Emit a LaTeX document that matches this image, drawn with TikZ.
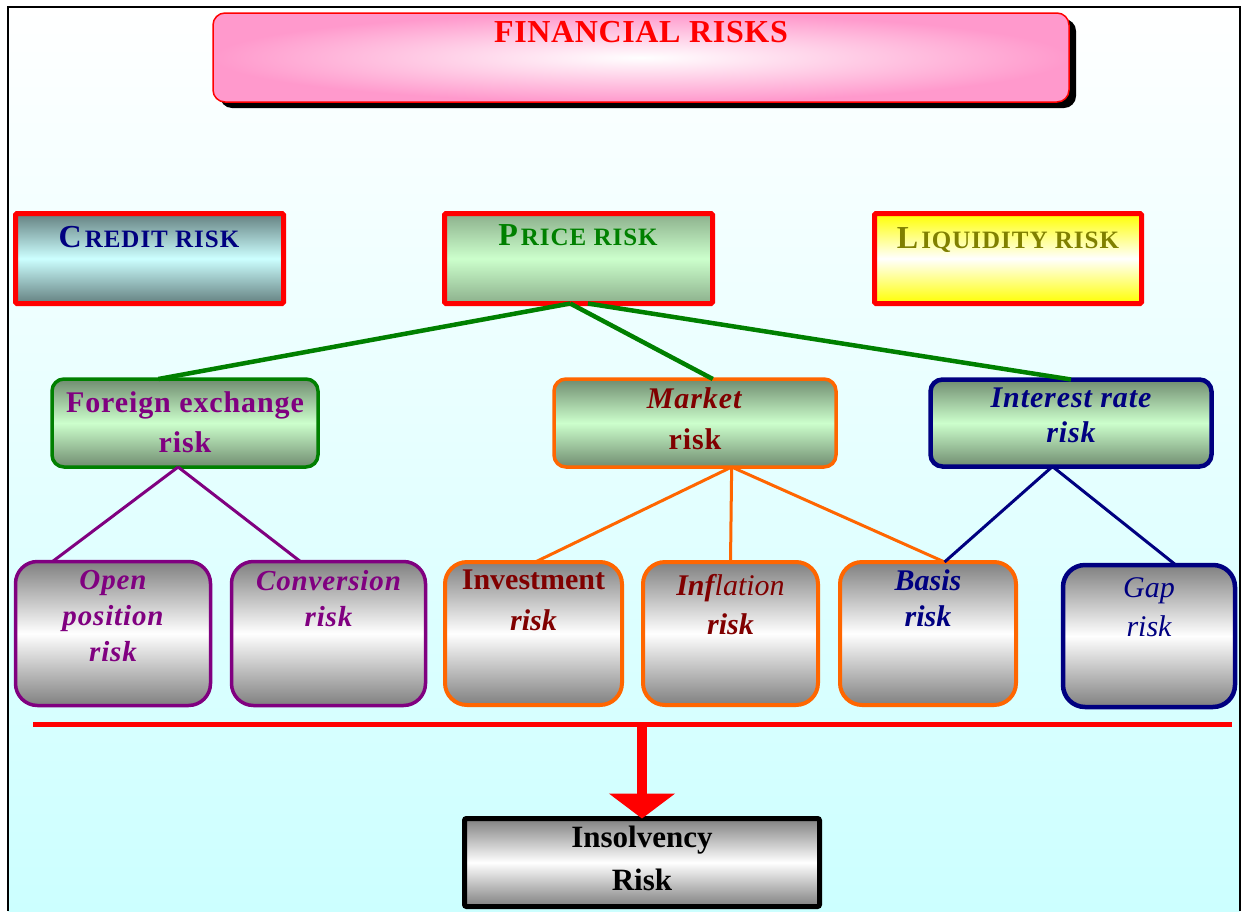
\documentclass[tikz,border=0pt]{standalone}
\usepackage{fontspec}
\setmainfont{Liberation Serif}
\usetikzlibrary{calc,shadows,arrows.meta}

\definecolor{navyc}{RGB}{0,0,128}
\definecolor{greenc}{RGB}{0,128,0}
\definecolor{olivec}{RGB}{128,128,0}
\definecolor{purplec}{RGB}{128,0,128}
\definecolor{maroonc}{RGB}{128,0,0}
\definecolor{orangec}{RGB}{255,102,0}
\definecolor{redc}{RGB}{255,0,0}
\definecolor{pinkc}{RGB}{255,153,204}
\definecolor{bgcyan}{RGB}{204,255,255}
\definecolor{slatec}{RGB}{100,128,128}
\definecolor{paleblue}{RGB}{204,255,255}
\definecolor{sagec}{RGB}{140,176,140}
\definecolor{sagedark}{RGB}{112,140,112}
\definecolor{palegreen}{RGB}{204,255,204}
\definecolor{yellowc}{RGB}{255,255,0}
\definecolor{grayc}{RGB}{128,128,128}

% small capitals made from two sizes of capitals
\newcommand\twocaps[2]{{\fontsize{32}{32}\selectfont #1}\hspace{3pt}{\fontsize{25}{25}\selectfont #2}}

\begin{document}
\begin{tikzpicture}[x=1pt,y=-1pt,
  box/.style={draw, inner sep=0pt, outer sep=0pt},
  titlebox/.style={box, draw=redc, line width=1.5pt, rounded corners=12pt,
    inner color=white, outer color=pinkc,
    drop shadow={shadow xshift=7pt, shadow yshift=-6pt, fill=black, opacity=1}},
  headbox/.style={box, draw=redc, line width=5pt, rounded corners=1.5pt},
  creditfill/.style={top color=slatec, bottom color=slatec, middle color=paleblue},
  pricefill/.style={top color=sagec, bottom color=sagec, middle color=palegreen},
  liqfill/.style={top color=yellowc, bottom color=yellowc, middle color=white},
  midbox/.style={box, line width=3.5pt, rounded corners=12pt,
    top color=sagedark, bottom color=sagedark, middle color=palegreen},
  lowbox/.style={box, line width=3.5pt, rounded corners=22pt,
    top color=grayc, bottom color=grayc, middle color=white},
  endbox/.style={box, draw=black, line width=5pt, rounded corners=2pt,
    top color=grayc, bottom color=grayc, middle color=white},
  label/.style={inner sep=0pt, outer sep=0pt, align=center},
  greenlink/.style={draw=greenc, line width=4.5pt},
  sublink/.style={line width=3pt},
  redbus/.style={draw=redc, line width=5pt},
  bigarrow/.style={draw=redc, line width=10pt, -{Triangle[width=65pt,length=25pt]}}
]
\useasboundingbox (0,0) rectangle (1243,911);
\fill[white] (0,0) rectangle (1243,911);
\shade[top color=white, bottom color=bgcyan] (8,7) rectangle (1240,911);
\draw[line width=1.5pt] (8,911) -- (8,7) -- (1240,7) -- (1240,911);

% title
\node[titlebox, minimum width=856pt, minimum height=89pt] (title) at (641,57.5) {};
\node[label, text=redc, font=\fontsize{32}{32}\selectfont\bfseries\addfontfeature{LetterSpace=2}, anchor=base] (titletext) at (641,42) {FINANCIAL RISKS};

% three main risk classes
\node[headbox, creditfill, minimum width=268pt, minimum height=90pt] (credit) at (149.5,258.5) {};
\node[headbox, pricefill, minimum width=268pt, minimum height=90pt] (price) at (578.5,258.5) {};
\node[headbox, liqfill, minimum width=267pt, minimum height=90pt] (liquidity) at (1008,258.5) {};
\node[label, text=navyc, font=\bfseries\addfontfeature{LetterSpace=4}, anchor=base] (credittext) at (149,247) {\twocaps{C}{REDIT RISK}};
\node[label, text=greenc, font=\bfseries\addfontfeature{LetterSpace=4}, anchor=base] (pricetext) at (578,245) {\twocaps{P}{RICE RISK}};
\node[label, text=olivec, font=\bfseries\addfontfeature{LetterSpace=4}, anchor=base] (liqtext) at (1008,248) {\twocaps{L}{IQUIDITY RISK}};

% components of price risk
\node[midbox, draw=greenc, minimum width=266pt, minimum height=88pt] (fx) at (185,423) {};
\node[midbox, draw=orangec, minimum width=282pt, minimum height=88pt] (market) at (695,423) {};
\node[midbox, draw=navyc, line width=4.5pt, minimum width=281pt, minimum height=87pt] (interest) at (1071,423) {};
\node[label, text=purplec, font=\fontsize{30}{40}\selectfont\bfseries\addfontfeature{LetterSpace=3}, anchor=north] (fxtext) at (185,392) {Foreign exchange\\risk};
\node[label, text=maroonc, font=\fontsize{30}{41}\selectfont\bfseries\addfontfeature{LetterSpace=3}, anchor=north] (markettext) at (695,388) {\textit{Market}\\risk};
\node[label, text=navyc, font=\fontsize{30}{35}\selectfont\bfseries\itshape\addfontfeature{LetterSpace=3}, anchor=north] (interesttext) at (1071,388) {Interest rate\\risk};

% detailed risks
\node[lowbox, draw=purplec, minimum width=195pt, minimum height=144pt] (open) at (113,633.5) {};
\node[lowbox, draw=purplec, minimum width=194pt, minimum height=144pt] (conversion) at (328.5,633.5) {};
\node[lowbox, draw=orangec, line width=4pt, minimum width=177pt, minimum height=143pt] (investment) at (533.5,633.5) {};
\node[lowbox, draw=orangec, line width=4pt, minimum width=175pt, minimum height=143pt] (inflation) at (730.5,633.5) {};
\node[lowbox, draw=orangec, line width=4pt, minimum width=176pt, minimum height=143pt] (basis) at (928,633.5) {};
\node[lowbox, draw=navyc, line width=4.5pt, minimum width=172pt, minimum height=142pt] (gap) at (1149,636) {};

\node[label, text=purplec, font=\fontsize{29}{36}\selectfont\bfseries\itshape\addfontfeature{LetterSpace=3}, anchor=north] (opentext) at (113,570) {Open\\position\\risk};
\node[label, text=purplec, font=\fontsize{29}{36}\selectfont\bfseries\itshape\addfontfeature{LetterSpace=3}, anchor=north] (conversiontext) at (328.5,570) {Conversion\\risk};
\node[label, text=maroonc, font=\fontsize{30}{41}\selectfont\bfseries, anchor=north] (investmenttext) at (533.5,570) {Investment\\\textit{risk}};
\node[label, text=maroonc, font=\fontsize{30}{39}\selectfont\itshape, anchor=north] (inflationtext) at (730.5,574) {\textbf{Inf}lation\\\textbf{risk}};
\node[label, text=navyc, font=\fontsize{30}{36}\selectfont\bfseries\itshape, anchor=north] (basistext) at (928,570) {Basis\\risk};
\node[label, text=navyc, font=\fontsize{30}{39}\selectfont\itshape, anchor=north] (gaptext) at (1149,578) {Gap\\risk};

% links from price risk
\draw[greenlink] ($(price.south west)!0.469!(price.south east)$) -- ($(fx.north west)!0.4!(fx.north east)$);
\draw[greenlink] ($(price.south west)!0.469!(price.south east)$) -- ($(market.north west)!0.563!(market.north east)$);
\draw[greenlink] ($(price.south west)!0.535!(price.south east)$) -- (interest.north);

% links to detailed risks
\draw[sublink, draw=purplec] ($(fx.south west)!0.474!(fx.south east)$) -- ($(open.north west)!0.19!(open.north east)$);
\draw[sublink, draw=purplec] ($(fx.south west)!0.474!(fx.south east)$) -- ($(conversion.north west)!0.355!(conversion.north east)$);
\draw[sublink, draw=orangec] ($(market.south west)!0.63!(market.south east)$) -- ($(investment.north west)!0.51!(investment.north east)$);
\draw[sublink, draw=orangec] ($(market.south west)!0.63!(market.south east)$) -- (inflation.north);
\draw[sublink, draw=orangec] ($(market.south west)!0.63!(market.south east)$) -- ($(basis.north west)!0.594!(basis.north east)$);
\draw[sublink, draw=navyc] ($(interest.south west)!0.434!(interest.south east)$) -- ($(basis.north west)!0.594!(basis.north east)$);
\draw[sublink, draw=navyc] ($(interest.south west)!0.434!(interest.south east)$) -- ($(gap.north west)!0.656!(gap.north east)$);

% everything leads to insolvency
\node[endbox, minimum width=355pt, minimum height=88pt] (insolv) at (642,862.5) {};
\node[label, text=black, font=\fontsize{31}{43}\selectfont\bfseries, anchor=north] (insolvtext) at (642,826) {Insolvency\\Risk};
\coordinate (busL) at (33,724);
\coordinate (busR) at (1232,724);
\coordinate (busmid) at (642,724);
\draw[redbus] (busL) -- (busR);
\draw[bigarrow] (busmid) -- (insolv.north);
\end{tikzpicture}
\end{document}
